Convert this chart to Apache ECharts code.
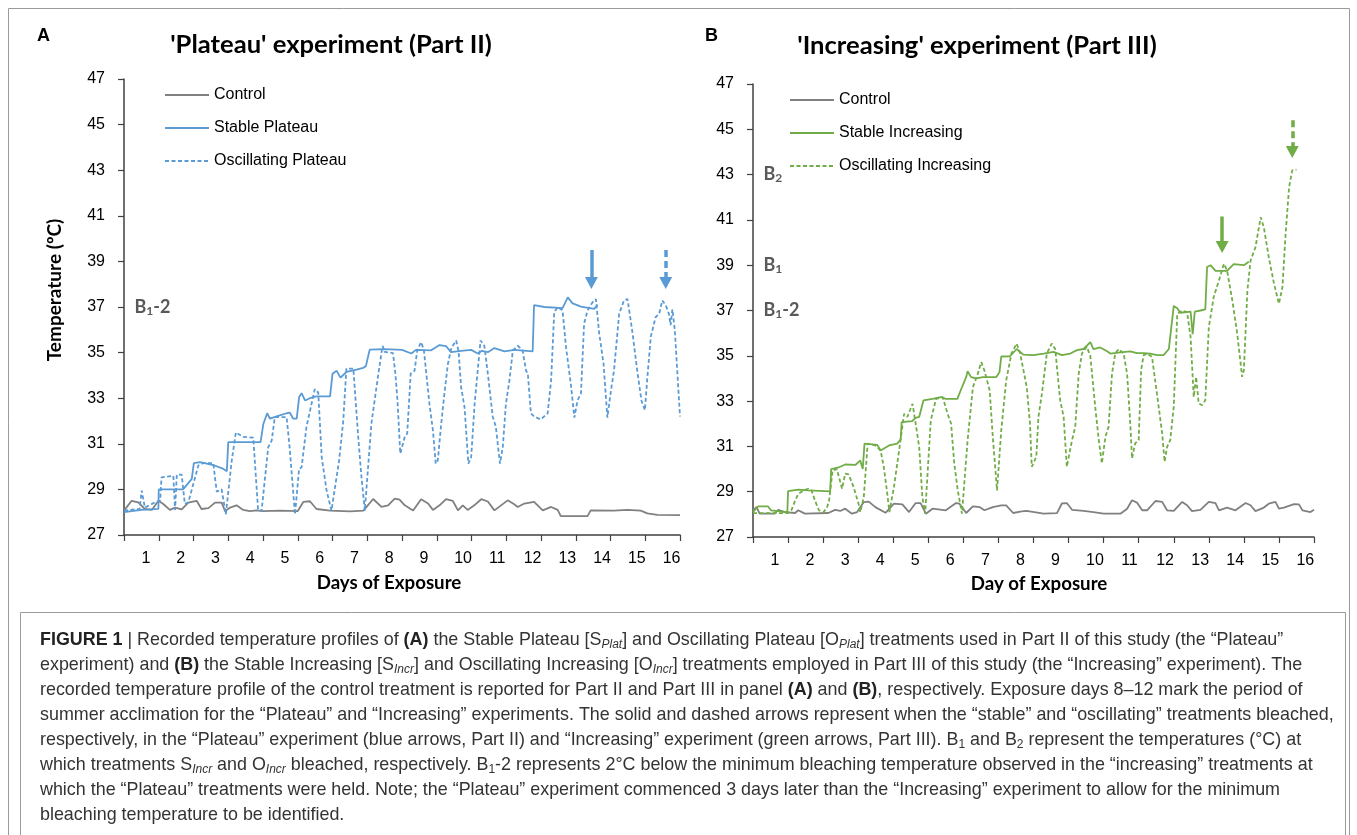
<!DOCTYPE html>
<html>
<head>
<meta charset="utf-8">
<script src="https://cdn.jsdelivr.net/npm/echarts@6/dist/echarts.min.js"></script>
<style>
  html, body { margin: 0; padding: 0; background: #fff; }
  #main { width: 1357px; height: 835px; }
</style>
</head>
<body>
<div id="main"></div>
<script>
// ---- data (day of exposure, temperature in degC) ----
var dayLabels = ['1','2','3','4','5','6','7','8','9','10','11','12','13','14','15','16'];

var controlA = [[0,28.07],[0.22,28.5],[0.41,28.43],[0.6,28.14],[0.8,28.1],[0.99,28.5],[1.13,28.36],[1.32,28.1],[1.47,28.2],[1.66,28.12],[1.85,28.42],[2.09,28.5],[2.23,28.14],[2.43,28.18],[2.62,28.42],[2.81,28.42],[2.91,28.05],[3.05,28.2],[3.24,28.3],[3.43,28.1],[3.62,28.05],[3.82,28.08],[4.0,28.05],[4.5,28.07],[5.0,28.05],[5.16,28.45],[5.35,28.48],[5.54,28.14],[5.93,28.07],[6.5,28.04],[6.89,28.07],[7.17,28.58],[7.41,28.23],[7.6,28.3],[7.79,28.6],[7.93,28.55],[8.08,28.3],[8.32,28.07],[8.55,28.57],[8.75,28.38],[8.89,28.1],[9.08,28.3],[9.27,28.57],[9.46,28.5],[9.61,28.08],[9.75,28.3],[9.89,28.1],[10.08,28.3],[10.28,28.57],[10.47,28.47],[10.66,28.08],[10.85,28.3],[11.04,28.52],[11.23,28.35],[11.33,28.23],[11.52,28.38],[11.8,28.45],[12.05,28.08],[12.29,28.23],[12.48,28.1],[12.57,27.83],[13.34,27.83],[13.43,28.08],[14.1,28.07],[14.49,28.1],[14.87,28.07],[15.06,27.95],[15.35,27.88],[16,27.87]];

var stableA = [[0,28.0],[0.5,28.1],[0.99,28.15],[1.0,29.0],[1.7,29.0],[1.95,29.46],[2.01,30.15],[2.19,30.2],[2.57,30.07],[2.86,29.9],[2.96,29.8],[3.0,31.07],[3.93,31.07],[4.01,31.87],[4.12,32.34],[4.2,32.1],[4.39,32.2],[4.68,32.34],[4.77,32.37],[4.87,32.1],[4.97,32.1],[5.04,33.05],[5.11,33.22],[5.21,32.9],[5.35,33.0],[5.54,33.08],[5.93,33.08],[6.0,34.07],[6.12,34.2],[6.23,33.9],[6.4,34.15],[6.69,34.25],[6.88,34.33],[6.96,34.4],[7.07,35.13],[7.5,35.15],[8.0,35.12],[8.27,34.96],[8.4,35.12],[8.84,35.1],[9.08,35.33],[9.27,35.28],[9.41,35.02],[9.7,35.08],[9.99,35.12],[10.18,34.96],[10.3,35.08],[10.47,35.02],[10.66,35.2],[10.95,35.05],[11.23,35.12],[11.76,35.05],[11.8,37.08],[12.1,37.0],[12.62,36.95],[12.77,37.42],[12.91,37.16],[13.15,37.02],[13.53,36.92],[13.63,37.1]];

var oscA = [[0,28.07],[0.45,28.15],[0.51,28.95],[0.6,28.2],[0.89,28.43],[1.04,28.5],[1.08,29.53],[1.42,29.6],[1.47,28.1],[1.52,29.65],[1.66,29.65],[1.75,28.36],[1.85,28.43],[2.14,30.05],[2.28,30.15],[2.57,30.15],[2.62,29.5],[2.67,28.9],[2.81,29.0],[2.93,27.9],[3.1,30.26],[3.22,31.5],[3.43,31.3],[3.72,31.27],[3.86,28.07],[3.96,28.07],[4.15,30.85],[4.25,31.14],[4.34,32.17],[4.68,32.17],[4.77,30.78],[4.92,27.9],[5.04,29.9],[5.11,29.97],[5.25,31.73],[5.49,33.4],[5.59,33.25],[5.69,30.4],[5.83,28.95],[5.97,28.07],[6.19,30.26],[6.31,32.02],[6.4,34.3],[6.6,34.3],[6.74,31.3],[6.83,29.6],[6.93,28.07],[7.12,31.9],[7.32,34.07],[7.44,35.3],[7.5,35.03],[7.74,34.98],[7.81,34.08],[7.87,32.9],[7.95,30.57],[8.0,30.5],[8.08,31.3],[8.15,31.45],[8.25,34.08],[8.36,34.2],[8.44,35.1],[8.55,35.46],[8.63,35.1],[8.7,34.08],[8.79,32.75],[8.89,31.59],[8.97,30.13],[9.03,30.27],[9.13,31.9],[9.22,33.2],[9.32,34.5],[9.42,35.2],[9.56,35.53],[9.63,35.03],[9.7,33.5],[9.8,32.6],[9.91,30.13],[9.99,30.4],[10.09,32.75],[10.16,33.9],[10.26,35.53],[10.37,35.3],[10.47,34.08],[10.61,32.2],[10.7,31.75],[10.82,30.13],[10.9,30.85],[10.99,32.75],[11.09,33.76],[11.19,35.1],[11.33,35.3],[11.47,35.1],[11.57,34.2],[11.62,34.1],[11.71,32.33],[11.8,32.2],[11.99,32.07],[12.19,32.33],[12.29,33.76],[12.38,36.77],[12.48,37.0],[12.62,36.85],[12.72,35.24],[12.86,33.6],[12.96,32.15],[13.05,32.9],[13.15,33.2],[13.24,36.27],[13.34,36.85],[13.48,37.2],[13.58,37.35],[13.67,35.9],[13.8,34.5],[13.91,32.15],[14.01,33.3],[14.1,34.2],[14.25,36.71],[14.39,37.29],[14.49,37.35],[14.63,35.9],[14.77,34.2],[14.89,32.9],[14.99,32.47],[15.06,33.9],[15.16,35.7],[15.3,36.56],[15.4,36.7],[15.49,37.29],[15.59,37.07],[15.68,36.71],[15.73,36.2],[15.78,36.9],[15.85,36.0],[16.0,32.2]];

var controlB = [[0,28.18],[0.1,28.32],[0.19,28.03],[0.62,28.03],[0.72,28.2],[0.91,28.1],[1.2,28.06],[1.29,28.18],[1.48,28.03],[2.15,28.06],[2.34,28.2],[2.49,28.15],[2.63,28.25],[2.82,28.03],[2.97,28.1],[3.16,28.54],[3.3,28.56],[3.49,28.32],[3.78,28.07],[4.02,28.47],[4.26,28.44],[4.45,28.1],[4.64,28.5],[4.78,28.5],[4.93,28.03],[5.12,28.25],[5.5,28.18],[5.79,28.5],[5.89,28.47],[6.08,28.06],[6.27,28.35],[6.46,28.32],[6.6,28.18],[6.84,28.32],[7.08,28.4],[7.22,28.4],[7.42,28.06],[7.66,28.13],[7.8,28.15],[8.29,28.03],[8.67,28.05],[8.81,28.48],[8.95,28.5],[9.1,28.2],[9.43,28.15],[9.71,28.1],[10.0,28.03],[10.48,28.03],[10.67,28.25],[10.81,28.62],[10.95,28.52],[11.1,28.18],[11.24,28.18],[11.48,28.59],[11.67,28.55],[11.81,28.18],[12.0,28.15],[12.24,28.55],[12.38,28.4],[12.52,28.14],[12.76,28.2],[13.0,28.55],[13.19,28.5],[13.29,28.18],[13.52,28.3],[13.76,28.18],[14.05,28.5],[14.19,28.4],[14.33,28.14],[14.57,28.3],[14.71,28.47],[14.9,28.55],[15.0,28.25],[15.14,28.3],[15.43,28.45],[15.57,28.44],[15.67,28.18],[15.9,28.1],[16.0,28.2]];

var stableB = [[0,28.1],[0.14,28.35],[0.43,28.35],[0.51,28.18],[0.98,28.1],[1.0,29.03],[1.29,29.09],[1.58,29.06],[2.2,29.01],[2.23,30.0],[2.44,30.07],[2.63,30.2],[2.92,30.18],[3.06,30.38],[3.13,30.0],[3.18,31.12],[3.4,31.09],[3.54,31.07],[3.64,30.82],[3.88,31.04],[4.11,31.12],[4.21,31.3],[4.24,32.07],[4.54,32.12],[4.64,32.26],[4.74,32.3],[4.86,33.03],[5.12,33.1],[5.36,33.18],[5.5,33.1],[5.83,33.1],[5.93,33.5],[6.08,34.06],[6.12,34.32],[6.22,34.06],[6.36,34.0],[6.56,34.06],[6.94,34.06],[7.03,34.28],[7.08,34.97],[7.33,34.98],[7.52,35.3],[7.71,35.05],[8.0,35.03],[8.29,35.1],[8.57,35.17],[8.81,35.03],[9.05,35.1],[9.24,35.25],[9.43,35.3],[9.62,35.6],[9.71,35.3],[9.9,35.37],[10.1,35.2],[10.19,35.1],[10.48,35.15],[10.76,35.2],[10.95,35.12],[11.14,35.12],[11.33,35.1],[11.52,35.03],[11.71,35.03],[11.86,35.3],[12.0,37.2],[12.1,37.1],[12.19,36.9],[12.48,36.95],[12.54,35.95],[12.6,36.95],[12.76,37.0],[12.9,37.05],[12.95,38.92],[13.05,39.0],[13.19,38.75],[13.52,38.75],[13.71,39.05],[14.0,39.0],[14.14,39.15]];

var oscB = [[0,28.05],[1.0,28.05],[1.1,28.2],[1.2,28.6],[1.29,28.9],[1.44,29.06],[1.58,29.13],[1.67,29.06],[1.77,28.6],[1.88,28.18],[2.01,28.1],[2.11,28.3],[2.17,28.6],[2.27,29.94],[2.39,30.0],[2.54,29.13],[2.63,29.8],[2.73,29.76],[2.87,29.2],[3.01,28.47],[3.06,28.1],[3.16,28.76],[3.27,31.12],[3.49,31.04],[3.64,30.82],[3.73,30.09],[3.83,28.9],[3.89,28.1],[4.02,29.2],[4.18,30.97],[4.31,32.44],[4.4,32.3],[4.55,32.88],[4.64,32.0],[4.74,30.97],[4.83,28.76],[4.91,28.03],[5.07,32.15],[5.22,33.1],[5.41,33.18],[5.55,32.44],[5.65,32.0],[5.74,30.24],[5.84,29.06],[5.96,28.03],[6.12,31.26],[6.27,33.6],[6.41,34.2],[6.51,34.72],[6.6,34.35],[6.75,33.47],[6.84,31.4],[6.96,29.06],[7.08,31.7],[7.22,33.9],[7.37,35.1],[7.52,35.54],[7.62,35.1],[7.81,33.6],[7.9,32.0],[7.95,30.1],[8.0,30.03],[8.08,30.54],[8.14,32.3],[8.24,33.33],[8.38,35.1],[8.52,35.54],[8.62,35.3],[8.76,33.04],[8.86,32.3],[8.95,30.1],[9.0,30.03],[9.1,31.28],[9.19,31.86],[9.29,34.22],[9.38,35.1],[9.52,35.4],[9.62,35.0],[9.76,32.75],[9.86,31.3],[9.95,30.25],[10.05,31.42],[10.14,31.86],[10.24,34.22],[10.33,35.1],[10.43,35.3],[10.57,35.1],[10.67,34.2],[10.76,32.0],[10.81,30.47],[10.9,31.13],[11.0,31.28],[11.07,34.37],[11.14,35.03],[11.24,35.1],[11.38,34.95],[11.52,33.33],[11.67,31.57],[11.74,30.32],[11.81,30.98],[11.9,31.28],[12.0,32.75],[12.1,36.85],[12.24,37.0],[12.38,36.93],[12.48,35.83],[12.57,33.18],[12.64,34.07],[12.71,32.9],[12.81,32.82],[12.9,33.04],[13.0,36.26],[13.14,37.6],[13.29,38.33],[13.43,39.06],[13.52,38.77],[13.67,37.45],[13.81,35.98],[13.95,34.07],[14.0,34.37],[14.1,37.88],[14.19,39.2],[14.33,39.79],[14.48,41.12],[14.57,40.67],[14.71,39.35],[14.86,38.18],[15.0,37.3],[15.1,38.03],[15.19,40.38],[15.29,42.45],[15.38,43.19],[15.5,43.22]];

// bleaching arrows: day, top of shaft, end of shaft (temperature)
var arrowsA = [{day: 13.45, from: 39.5, to: 38.05, dashed: false}, {day: 15.59, from: 39.5, to: 38.05, dashed: true}];
var arrowsB = [{day: 13.38, from: 41.15, to: 39.8, dashed: false}, {day: 15.38, from: 45.4, to: 44.0, dashed: true}];

// reference temperature labels
var refLabelsA = [{name: 'B1-2', temp: 37}];
var refLabelsB = [{name: 'B2', temp: 43}, {name: 'B1', temp: 39}, {name: 'B1-2', temp: 37}];

var captionLines = [
  '{b|FIGURE 1} | Recorded temperature profiles of {b|(A)} the Stable Plateau [S{si|Plat}] and Oscillating Plateau [O{si|Plat}] treatments used in Part II of this study (the \u201cPlateau\u201d',
  'experiment) and {b|(B)} the Stable Increasing [S{si|Incr}] and Oscillating Increasing [O{si|Incr}] treatments employed in Part III of this study (the \u201cIncreasing\u201d experiment). The',
  'recorded temperature profile of the control treatment is reported for Part II and Part III in panel {b|(A)} and {b|(B)}, respectively. Exposure days 8\u201312 mark the period of',
  'summer acclimation for the \u201cPlateau\u201d and \u201cIncreasing\u201d experiments. The solid and dashed arrows represent when the \u201cstable\u201d and \u201coscillating\u201d treatments bleached,',
  'respectively, in the \u201cPlateau\u201d experiment (blue arrows, Part II) and \u201cIncreasing\u201d experiment (green arrows, Part III). B{s|1} and B{s|2} represent the temperatures (\u00b0C) at',
  'which treatments S{si|Incr} and O{si|Incr} bleached, respectively. B{s|1}-2 represents 2\u00b0C below the minimum bleaching temperature observed in the \u201cincreasing\u201d treatments at',
  'which the \u201cPlateau\u201d treatments were held. Note; the \u201cPlateau\u201d experiment commenced 3 days later than the \u201cIncreasing\u201d experiment to allow for the minimum',
  'bleaching temperature to be identified.'
];

// ---- styling ----
var BLUE = '#5b9bd5', GREEN = '#70ad47', GREY = '#808080';
var SANS = "'Liberation Sans', Arial, sans-serif";
var BOLD = "Lato, 'Open Sans', sans-serif";
var AXIS_COL = '#404040';

var myChart = echarts.init(document.getElementById('main'), null, {renderer: 'canvas'});

function xAxes(gi) {
    return [{
        gridIndex: gi, type: 'value', min: 0, max: 16, interval: 1, position: 'bottom',
        axisLine: {show: true, lineStyle: {color: AXIS_COL, width: 1.5}},
        axisTick: {show: true, length: 6, lineStyle: {color: AXIS_COL, width: 1.2}},
        axisLabel: {show: false}, splitLine: {show: false}
    }, {
        gridIndex: gi, type: 'category', data: dayLabels, position: 'bottom',
        axisLine: {show: false}, axisTick: {show: false}, splitLine: {show: false},
        axisLabel: {interval: 0, align: 'left', margin: 16,
            fontFamily: SANS, fontSize: 16, color: '#000'}
    }];
}

function yAxis(gi) {
    return {
        gridIndex: gi, type: 'value', min: 27, max: 47, interval: 2,
        axisLine: {show: true, lineStyle: {color: AXIS_COL, width: 1.5}},
        axisTick: {show: true, length: 6, lineStyle: {color: AXIS_COL, width: 1.2}},
        axisLabel: {margin: 19, fontFamily: SANS, fontSize: 16, color: '#000'},
        splitLine: {show: false}
    };
}

function arrowLines(list, color) {
    return list.map(function (a) {
        return [{coord: [a.day, a.from], lineStyle: {color: color, width: 3.5, type: a.dashed ? [7, 4] : 'solid'}},
                {coord: [a.day, a.to]}];
    });
}

function refPoints(list) {
    return list.map(function (r) {
        var parts = r.name.split('-');
        var txt = '{b|' + parts[0].charAt(0) + '}{s|' + parts[0].slice(1) + '}' + (parts[1] ? '{b|-' + parts[1] + '}' : '');
        return {coord: [0.3, r.temp], label: {formatter: txt}};
    });
}

var refLabelStyle = {
    show: true, position: 'right', distance: 0,
    rich: {
        b: {fontFamily: BOLD, fontWeight: 'bold', fontSize: 18, color: '#595959'},
        s: {fontFamily: BOLD, fontWeight: 'bold', fontSize: 12, color: '#595959', verticalAlign: 'bottom', padding: [8, 0, 0, 0]}
    }
};

function lineSeries(name, data, color, gi, dashed) {
    return {
        name: name, type: 'line', xAxisIndex: gi * 2, yAxisIndex: gi, data: data,
        symbol: 'none', color: color, animation: false,
        lineStyle: {color: color, width: 1.8, type: dashed ? [4, 2.5] : 'solid'}
    };
}

var series = [
    lineSeries('Control', controlA, GREY, 0, false),
    lineSeries('Stable Plateau', stableA, BLUE, 0, false),
    lineSeries('Oscillating Plateau', oscA, BLUE, 0, true),
    lineSeries('Control', controlB, GREY, 1, false),
    lineSeries('Stable Increasing', stableB, GREEN, 1, false),
    lineSeries('Oscillating Increasing', oscB, GREEN, 1, true)
];
series[0].markPoint = {symbol: 'circle', symbolSize: 0, silent: true, label: refLabelStyle, data: refPoints(refLabelsA)};
series[3].markPoint = {symbol: 'circle', symbolSize: 0, silent: true, label: refLabelStyle, data: refPoints(refLabelsB)};
series[1].markLine = {silent: true, symbol: ['none', 'triangle'], symbolSize: [13, 12], label: {show: false},
    animation: false, data: arrowLines(arrowsA, BLUE)};
series[4].markLine = {silent: true, symbol: ['none', 'triangle'], symbolSize: [13, 12], label: {show: false},
    animation: false, data: arrowLines(arrowsB, GREEN)};

var legendText = {fontFamily: SANS, fontSize: 16, color: '#000'};

var CAP = 17.9;
var captionGraphics = captionLines.map(function (t, i) {
    return {
        type: 'text', x: 40, y: 640 + i * 25, silent: true,
        style: {
            text: t, fill: '#333', fontFamily: SANS, fontSize: CAP, verticalAlign: 'middle',
            rich: {
                b: {fill: '#222', fontFamily: SANS, fontSize: CAP, fontWeight: 'bold'},
                s: {fill: '#333', fontFamily: SANS, fontSize: 12, verticalAlign: 'bottom', padding: [10, 0, 0, 0]},
                si: {fill: '#333', fontFamily: SANS, fontSize: 12, fontStyle: 'italic', verticalAlign: 'bottom', padding: [10, 0, 0, 0]}
            }
        }
    };
});

var option = {
    backgroundColor: '#fff',
    animation: false,
    title: [
        {text: 'A', left: 37, top: 27, padding: 0, textStyle: {fontFamily: SANS, fontWeight: 'bold', fontSize: 18, color: '#000'}},
        {text: "'Plateau' experiment (Part II)", left: 331, top: 32, padding: 0, textAlign: 'center',
            textStyle: {fontFamily: BOLD, fontWeight: 'bold', fontSize: 25.6, color: '#000'}},
        {text: 'B', left: 705, top: 27, padding: 0, textStyle: {fontFamily: SANS, fontWeight: 'bold', fontSize: 18, color: '#000'}},
        {text: "'Increasing' experiment (Part III)", left: 977, top: 33, padding: 0, textAlign: 'center',
            textStyle: {fontFamily: BOLD, fontWeight: 'bold', fontSize: 25.6, color: '#000'}}
    ],
    legend: [
        {data: ['Control', 'Stable Plateau', 'Oscillating Plateau'], orient: 'vertical', left: 164, top: 87,
            itemWidth: 44, itemHeight: 16, itemGap: 17, padding: 0, textStyle: legendText, selectedMode: false,
            itemStyle: {opacity: 0}},
        {data: ['Control', 'Stable Increasing', 'Oscillating Increasing'], orient: 'vertical', left: 789, top: 92,
            itemWidth: 44, itemHeight: 16, itemGap: 17, padding: 0, textStyle: legendText, selectedMode: false,
            itemStyle: {opacity: 0}}
    ],
    grid: [
        {left: 124, top: 79, width: 556, height: 456},
        {left: 753, top: 84, width: 561, height: 453}
    ],
    xAxis: xAxes(0).concat(xAxes(1)),
    yAxis: [yAxis(0), yAxis(1)],
    series: series,
    graphic: [
        {type: 'rect', silent: true, shape: {x: 8.5, y: 8.5, width: 1341, height: 900}, style: {fill: 'none', stroke: '#9a9a9a', lineWidth: 1}},
        {type: 'rect', silent: true, shape: {x: 20.5, y: 612.5, width: 1325, height: 240}, style: {fill: 'none', stroke: '#9a9a9a', lineWidth: 1}},
        {type: 'text', x: 55, y: 290, rotation: Math.PI / 2, silent: true,
            style: {text: 'Temperature (\u00baC)', fill: '#000', fontFamily: BOLD, fontWeight: 'bold', fontSize: 19, align: 'center', verticalAlign: 'middle'}},
        {type: 'text', x: 389, y: 583, silent: true,
            style: {text: 'Days of Exposure', fill: '#000', fontFamily: BOLD, fontWeight: 'bold', fontSize: 18.7, align: 'center', verticalAlign: 'middle'}},
        {type: 'text', x: 1039, y: 584, silent: true,
            style: {text: 'Day of Exposure', fill: '#000', fontFamily: BOLD, fontWeight: 'bold', fontSize: 18.7, align: 'center', verticalAlign: 'middle'}}
    ].concat(captionGraphics)
};
myChart.setOption(option);

window.addEventListener('resize', function () {
    if (myChart != null) {
        myChart.resize();
    }
});
</script>
</body>
</html>
